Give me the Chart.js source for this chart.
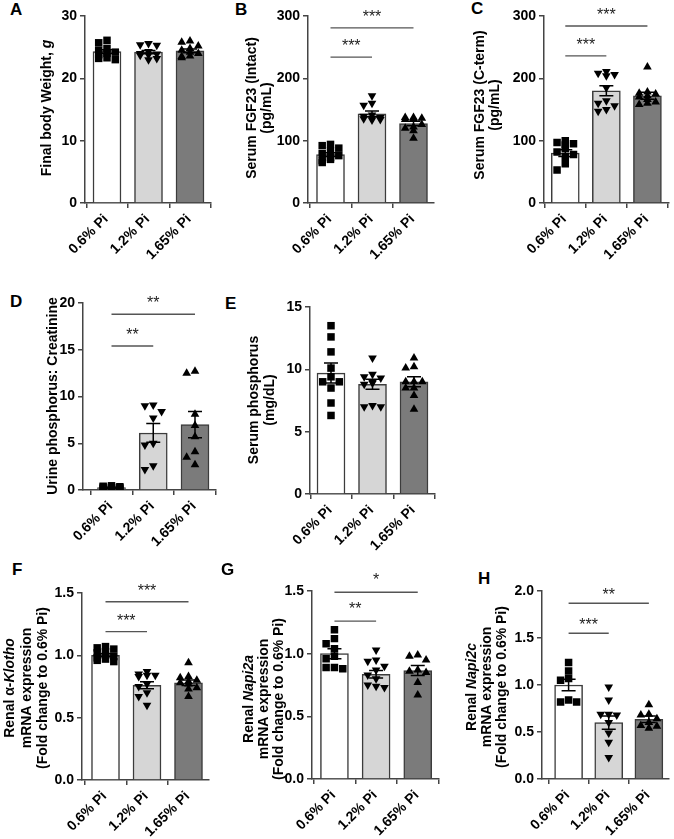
<!DOCTYPE html>
<html><head><meta charset="utf-8">
<script src="https://cdn.jsdelivr.net/npm/chart.js@4.4.1/dist/chart.umd.min.js"></script>
<style>
body{margin:0;background:#fff;width:674px;height:839px;position:relative;overflow:hidden;font-family:"Liberation Sans",Arial,sans-serif}
canvas{position:absolute}
.lbl{position:absolute;font:bold 17px "Liberation Sans",Arial,sans-serif;line-height:1;color:#000}
</style></head><body>
<script>
// ---------- categories ----------
const groups = ['0.6% Pi', '1.2% Pi', '1.65% Pi'];

// ---------- A: final body weight (g) ----------
const aMean = [24.3, 24.2, 24.4];
const aSem = [0.3, 0.25, 0.3];
const aP06 = [26.1, 25.7, 24.8, 24.5, 24.2, 24.0, 23.8, 23.3, 23.2, 23.0];
const aP12 = [25.6, 25.4, 25.3, 24.3, 24.0, 23.9, 23.8, 23.7, 23.0, 23.2];
const aP165 = [26.0, 25.8, 25.2, 24.8, 24.5, 24.2, 24.0, 23.6, 23.5, 23.3];

// ---------- B: serum FGF23 intact ----------
const bMean = [77.5, 143, 127.5];
const bSem = [3, 4.5, 3.5];
const bP06 = [94, 92, 88, 83, 79, 76, 73, 70, 68, 65];
const bP12 = [172, 160, 157, 141, 139, 137, 136, 135, 134, 133];
const bP165 = [137, 137, 136, 135, 134, 126, 122, 120, 116, 104];

// ---------- C: serum FGF23 C-term ----------
const cMean = [80, 180, 172];
const cSem = [5.5, 8, 5.5];
const cP06 = [100, 97, 95, 93, 88, 82, 78, 75, 63, 53];
const cP12 = [211, 208, 206, 204, 185, 164, 160, 156, 150, 147];
const cP165 = [218, 178, 176, 175, 172, 170, 166, 162, 160, 158];

// ---------- D: urine phosphorus : creatinine ----------
const dMean = [0.25, 6.1, 7.0];
const dSem = [0.05, 1.0, 1.4];
const dP06 = [0.45, 0.4, 0.35, 0.3, 0.3, 0.25, 0.2, 0.15, 0.1, 0.05];
const dP12 = [9.1, 9.0, 8.4, 7.7, 5.0, 4.8, 2.6, 2.2];
const dP165 = [12.7, 12.5, 8.1, 6.9, 5.7, 4.1, 3.5, 2.7];

// ---------- E: serum phosphorus ----------
const eMean = [9.7, 8.8, 9.0];
const eSem = [0.8, 0.4, 0.4];
const eP06 = [13.5, 12.6, 11.4, 10.1, 9.4, 9.0, 9.0, 8.5, 7.3, 6.3];
const eP12 = [10.9, 9.4, 9.6, 9.3, 9.0, 8.8, 8.9, 7.0, 7.0, 7.1];
const eP165 = [10.9, 10.2, 10.1, 9.0, 9.0, 9.0, 8.5, 8.5, 7.9, 6.8];

// ---------- F: renal alpha-Klotho ----------
const fMean = [1.0, 0.76, 0.78];
const fSem = [0.012, 0.028, 0.022];
const fP06 = [1.07, 1.06, 1.05, 1.03, 1.02, 1.0, 0.99, 0.98, 0.97, 0.96, 0.95];
const fP12 = [0.87, 0.85, 0.84, 0.84, 0.83, 0.77, 0.75, 0.70, 0.67, 0.60];
const fP165 = [0.94, 0.83, 0.82, 0.80, 0.79, 0.78, 0.77, 0.74, 0.73, 0.67];

// ---------- G: renal Napi2a ----------
const gMean = [1.0, 0.835, 0.865];
const gSem = [0.04, 0.03, 0.04];
const gP06 = [1.19, 1.12, 1.08, 1.04, 0.98, 0.96, 0.89, 0.89, 0.88];
const gP12 = [1.03, 0.95, 0.94, 0.90, 0.87, 0.83, 0.80, 0.74, 0.75, 0.73];
const gP165 = [0.99, 0.98, 0.95, 0.87, 0.86, 0.85, 0.77, 0.67];

// ---------- H: renal Napi2c ----------
const hMean = [1.0, 0.6, 0.635];
const hSem = [0.06, 0.07, 0.035];
const hP06 = [1.24, 1.15, 1.07, 1.05, 0.84, 0.82, 0.82];
const hP12 = [0.98, 0.84, 0.69, 0.69, 0.68, 0.60, 0.49, 0.39, 0.23];
const hP165 = [0.79, 0.69, 0.68, 0.64, 0.60, 0.57, 0.56, 0.54];

// ---------- significance brackets: [from group, to group, y value, label] ----------
const bSig = [[0, 1, 234, '***'], [0, 2, 281, '***']];
const cSig = [[0, 1, 236, '***'], [0, 2, 284, '***']];
const dSig = [[0, 1, 15.4, '**'], [0, 2, 18.8, '**']];
const fSig = [[0, 1, 1.19, '***'], [0, 2, 1.43, '***']];
const gSig = [[0, 1, 1.26, '**'], [0, 2, 1.49, '*']];
const hSig = [[0, 1, 1.55, '***'], [0, 2, 1.87, '**']];

// ---------- layout / styling ----------
const FONT = '"Liberation Sans", Arial, sans-serif';
const barFill = ['#ffffff', '#d6d6d6', '#7b7b7b'];
const axisCol = '#444444';
const marks = [
  {style: 'rect', rot: 0, r: 5.3},
  {style: 'triangle', rot: 180, r: 5},
  {style: 'triangle', rot: 0, r: 5}
];

const panels = [
  {L: 'A', lp: [10, 1], box: [0, 0, 222, 270], area: [85, 16, 211, 203], cx: [107, 190], yMax: 30, yStep: 10, dec: 0,
   mean: aMean, sem: aSem, pts: [aP06, aP12, aP165], sig: [], gap: 15,
   title: [[['Final body Weight, ', 0], ['g', 1]]], tx: [47], ty: 108},
  {L: 'B', lp: [235, 1], box: [222, 0, 222, 270], area: [308, 16, 434, 203], cx: [330.5, 413.5], yMax: 300, yStep: 100, dec: 0,
   mean: bMean, sem: bSem, pts: [bP06, bP12, bP165], sig: bSig, gap: 15,
   title: [[['Serum FGF23 (Intact)', 0]], [['(pg/mL)', 0]]], tx: [252, 267], ty: 108},
  {L: 'C', lp: [471, 0], box: [444, 0, 230, 270], area: [544, 16, 670, 203], cx: [565.5, 648.5], yMax: 300, yStep: 100, dec: 0,
   mean: cMean, sem: cSem, pts: [cP06, cP12, cP165], sig: cSig, gap: 15,
   title: [[['Serum FGF23 (C-term)', 0]], [['(pg/mL)', 0]]], tx: [480, 495], ty: 105},
  {L: 'D', lp: [10, 293], box: [0, 280, 222, 280], area: [83, 303, 216, 490], cx: [111.5, 195], yMax: 20, yStep: 5, dec: 0,
   mean: dMean, sem: dSem, pts: [dP06, dP12, dP165], sig: dSig, gap: 15,
   title: [[['Urine phosphorus: Creatinine', 0]]], tx: [53], ty: 396},
  {L: 'E', lp: [225, 295], box: [222, 280, 222, 280], area: [310, 307, 435, 494], cx: [331, 414], yMax: 15, yStep: 5, dec: 0,
   mean: eMean, sem: eSem, pts: [eP06, eP12, eP165], sig: [], gap: 15,
   title: [[['Serum phosphorus', 0]], [['(mg/dL)', 0]]], tx: [254, 270], ty: 400},
  {L: 'F', lp: [12, 561], box: [0, 560, 222, 279], area: [82, 593, 209, 780], cx: [105.5, 188.5], yMax: 1.5, yStep: 0.5, dec: 1,
   mean: fMean, sem: fSem, pts: [fP06, fP12, fP165], sig: fSig, gap: 15,
   title: [[['Renal \u03b1-', 0], ['Klotho', 1]], [['mRNA expression', 0]], [['(Fold change to 0.6% Pi)', 0]]], tx: [10, 27, 43], ty: 688},
  {L: 'G', lp: [221, 561], box: [222, 560, 222, 279], area: [312, 591, 439, 779], cx: [334.5, 418], yMax: 1.5, yStep: 0.5, dec: 1,
   mean: gMean, sem: gSem, pts: [gP06, gP12, gP165], sig: gSig, gap: 16,
   title: [[['Renal ', 0], ['Napi2a', 1]], [['mRNA expression', 0]], [['(Fold change to 0.6% Pi)', 0]]], tx: [249, 264, 279], ty: 699},
  {L: 'H', lp: [478, 570], box: [444, 560, 230, 279], area: [542, 591, 673, 779], cx: [569.5, 652.5], yMax: 2.0, yStep: 0.5, dec: 1,
   mean: hMean, sem: hSem, pts: [hP06, hP12, hP165], sig: hSig, gap: 12,
   title: [[['Renal ', 0], ['Napi2c', 1]], [['mRNA expression', 0]], [['(Fold change to 0.6% Pi)', 0]]], tx: [472, 487, 502], ty: 687}
];

// deterministic beeswarm-like horizontal spread of the points inside a group
function swarm(vals, idx, thr) {
  const order = vals.map((v, k) => k).sort((a, b) => vals[b] - vals[a]);
  const slots = [0, -0.1, 0.1, -0.2, 0.2, -0.28, 0.28];
  const placed = [];
  for (const k of order) {
    const v = vals[k];
    let best = 0, bestC = Infinity;
    for (const s of slots) {
      let c = 0;
      for (const q of placed) if (Math.abs(q.y - v) < thr && Math.abs(q.dx - s) < 0.17) c++;
      if (c < bestC) { bestC = c; best = s; }
      if (c === 0) break;
    }
    placed.push({dx: best, y: v});
  }
  return placed.map(q => ({x: idx + q.dx, y: q.y}));
}

const overlay = {
  id: 'overlay',
  afterDatasetsDraw(chart) {
    const p = chart.options.plugins.overlay.p;
    const ctx = chart.ctx, xs = chart.scales.x, ys = chart.scales.y;
    const [bx, by] = p.box;
    ctx.save();
    // error bars (mean +/- SEM)
    ctx.strokeStyle = '#000'; ctx.lineWidth = 1.5;
    p.mean.forEach((m, i) => {
      const x = xs.getPixelForValue(i);
      const yt = ys.getPixelForValue(m + p.sem[i]);
      const yb = ys.getPixelForValue(Math.max(0, m - p.sem[i]));
      ctx.beginPath();
      ctx.moveTo(x, yt); ctx.lineTo(x, yb);
      ctx.moveTo(x - 7, yt); ctx.lineTo(x + 7, yt);
      ctx.moveTo(x - 7, yb); ctx.lineTo(x + 7, yb);
      ctx.stroke();
    });
    // significance brackets
    p.sig.forEach(([a, b, v, t]) => {
      const x1 = xs.getPixelForValue(a), x2 = xs.getPixelForValue(b), y = ys.getPixelForValue(v);
      ctx.strokeStyle = '#555'; ctx.lineWidth = 1.4;
      ctx.beginPath(); ctx.moveTo(x1, y); ctx.lineTo(x2, y); ctx.stroke();
      ctx.fillStyle = '#222'; ctx.font = '16px ' + FONT;
      ctx.textAlign = 'center'; ctx.textBaseline = 'alphabetic';
      ctx.fillText(t, (x1 + x2) / 2, y - p.gap + 9);
    });
    // category labels, rotated 45 degrees, ending just below each x tick
    ctx.fillStyle = '#000';
    ctx.font = 'bold 14px ' + FONT;
    ctx.textAlign = 'right'; ctx.textBaseline = 'middle';
    groups.forEach((g, i) => {
      ctx.save();
      ctx.translate(xs.getPixelForValue(i) - 1, ys.bottom + 14);
      ctx.rotate(-Math.PI / 4);
      ctx.fillText(g, 0, 0);
      ctx.restore();
    });
    // y-axis titles (rotated, with italic parts)
    ctx.textBaseline = 'middle'; ctx.textAlign = 'left';
    p.title.forEach((segs, li) => {
      const fnt = it => (it ? 'italic bold 14px ' : 'bold 14px ') + FONT;
      let w = 0;
      segs.forEach(([s, it]) => { ctx.font = fnt(it); w += ctx.measureText(s).width; });
      ctx.save();
      ctx.translate(p.tx[li] - bx, p.ty - by);
      ctx.rotate(-Math.PI / 2);
      let pos = -w / 2;
      segs.forEach(([s, it]) => { ctx.font = fnt(it); ctx.fillText(s, pos, 0); pos += ctx.measureText(s).width; });
      ctx.restore();
    });
    ctx.restore();
  }
};

function makePanel(p) {
  const [bx, by, bw, bh] = p.box;
  const [L, T, R, B] = p.area;
  const lbl = document.createElement('div');
  lbl.className = 'lbl'; lbl.textContent = p.L;
  lbl.style.left = p.lp[0] + 'px'; lbl.style.top = p.lp[1] + 'px';
  document.body.appendChild(lbl);
  const cv = document.createElement('canvas');
  cv.width = bw; cv.height = bh;
  cv.style.left = bx + 'px'; cv.style.top = by + 'px';
  cv.style.width = bw + 'px'; cv.style.height = bh + 'px';
  document.body.appendChild(cv);
  const sp = (p.cx[1] - p.cx[0]) / 2;
  const xmin = -(p.cx[0] - L) / sp, xmax = 2 + (R - p.cx[1]) / sp;
  const yw = 40, xh = 50;
  const thr = p.yMax * 7 / (B - T);
  const tickFont = {family: FONT, size: 14, weight: 'bold'};
  const gridOpt = {display: true, drawOnChartArea: false, drawTicks: true, tickLength: 5, tickColor: axisCol, tickWidth: 1.5, color: axisCol, lineWidth: 1.5};
  const datasets = [{
    type: 'bar', order: 10,
    data: p.mean.map((m, i) => ({x: i, y: m})),
    backgroundColor: barFill, borderColor: '#3c3c3c', borderWidth: 1.5, barThickness: 28, borderSkipped: 'start'
  }];
  p.pts.forEach((arr, i) => {
    datasets.push({
      type: 'scatter', order: 0, data: swarm(arr, i, thr),
      pointStyle: marks[i].style, pointRotation: marks[i].rot, pointRadius: marks[i].r,
      backgroundColor: '#000', borderColor: '#000', borderWidth: 0, showLine: false
    });
  });
  new Chart(cv, {
    type: 'bar',
    data: {datasets},
    options: {
      responsive: false, animation: false, devicePixelRatio: 1,
      layout: {padding: {left: L - bx - yw, top: T - by, right: bx + bw - R, bottom: by + bh - B - xh}},
      plugins: {legend: {display: false}, tooltip: {enabled: false}, overlay: {p}},
      scales: {
        x: {
          type: 'linear', min: xmin, max: xmax, offset: false,
          afterFit: s => { s.height = xh; },
          afterBuildTicks: s => { s.ticks = [0, 1, 2].map(v => ({value: v})); },
          ticks: {display: false, callback: v => groups[v], autoSkip: false},
          grid: gridOpt,
          border: {display: true, color: axisCol, width: 1.5}
        },
        y: {
          min: 0, max: p.yMax,
          afterFit: s => { s.width = yw; },
          ticks: {stepSize: p.yStep, callback: v => Number(v).toFixed(p.dec), font: tickFont, color: '#000', padding: 3},
          grid: gridOpt,
          border: {display: true, color: axisCol, width: 1.5}
        }
      }
    },
    plugins: [overlay]
  });
}

panels.forEach(makePanel);
</script>
</body></html>
